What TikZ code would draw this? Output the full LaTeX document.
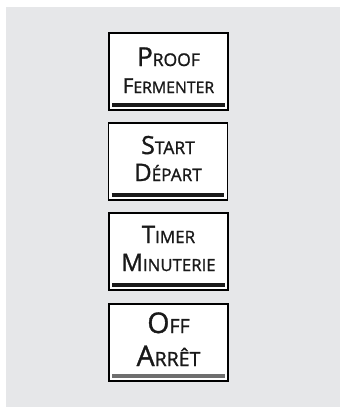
\documentclass[tikz,border=0pt]{standalone}
\usepackage{fontspec}
\setmainfont{Open Sans}[FakeBold=1.2]
\usetikzlibrary{positioning}
\definecolor{panelgray}{HTML}{E6E7E9}
\definecolor{barblack}{HTML}{1A1A1A}
\definecolor{bargray}{HTML}{6E6E6E}
% first letter big, the rest as small capitals
\newcommand\scw[4]{{\fontsize{#1}{#1}\selectfont #2}{\fontsize{#3}{#3}\selectfont #4}}
\tikzset{
  btn/.style={draw=black, line width=1.8pt, fill=white, minimum width=119pt, minimum height=77pt, inner sep=0pt},
  lbl/.style={inner sep=0pt, anchor=base, text=black!90},
  bar/.style={line width=3.6pt, barblack}
}
\begin{document}
\begin{tikzpicture}[x=1pt,y=-1pt]
\useasboundingbox (0,0) rectangle (340,407);
\fill[panelgray] (6,7) rectangle (340,407);
% proof
\node[btn] (proof) at (168.5,71.5){};
\node[lbl] (proofA) at ([yshift=5.5pt]proof.center){\scw{26pt}{P}{17.5pt}{ROOF}};
\node[lbl] (proofB) at ([yshift=-21.5pt]proof.center){\scw{20.5pt}{F}{15.8pt}{ERMENTER}};
\draw[bar] ([xshift=4pt,yshift=6pt]proof.south west) -- ([xshift=-4pt,yshift=6pt]proof.south east);
% start
\node[btn] (start) at (168,161.5){};
\node[lbl] (startA) at ([yshift=7.5pt]start.center){\scw{25pt}{S}{17.5pt}{TART}};
\node[lbl] (startB) at ([yshift=-19.5pt]start.center){\scw{24pt}{D}{17.2pt}{ÉPART}};
\draw[bar] ([xshift=4pt,yshift=6pt]start.south west) -- ([xshift=-4pt,yshift=6pt]start.south east);
% timer
\node[btn] (timer) at (168.5,251.5){};
\node[lbl] (timerA) at ([yshift=8.5pt]timer.center){\scw{24pt}{T}{17pt}{IMER}};
\node[lbl] (timerB) at ([yshift=-19.5pt]timer.center){\scw{24pt}{M}{16.8pt}{INUTERIE}};
\draw[bar] ([xshift=4pt,yshift=6pt]timer.south west) -- ([xshift=-4pt,yshift=6pt]timer.south east);
% off
\node[btn] (off) at (168.5,342.5){};
\node[lbl] (offA) at ([yshift=9.5pt]off.center){\scw{28.5pt}{O}{19.5pt}{FF}};
\node[lbl] (offB) at ([yshift=-23.5pt]off.center){\scw{28.5pt}{A}{19.5pt}{RRÊT}};
\draw[bar, bargray] ([xshift=4pt,yshift=6pt]off.south west) -- ([xshift=-4pt,yshift=6pt]off.south east);
\end{tikzpicture}
\end{document}
